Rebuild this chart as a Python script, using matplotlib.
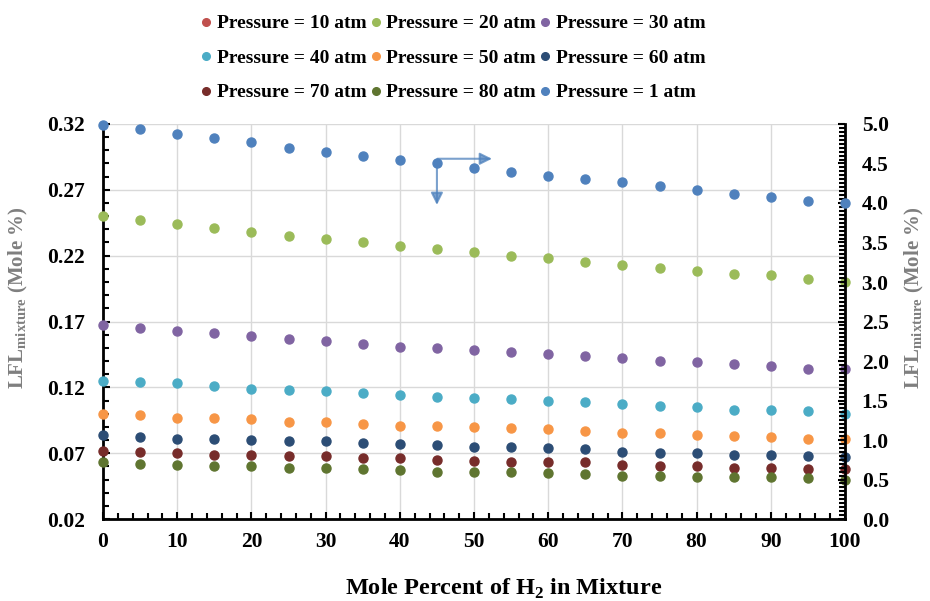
import numpy as np
import matplotlib.pyplot as plt
from matplotlib.lines import Line2D
from matplotlib.ticker import MultipleLocator, FixedLocator

plt.rcParams['font.family'] = ['Liberation Serif', 'DejaVu Serif']
plt.rcParams['font.weight'] = 'bold'
plt.rcParams['axes.labelweight'] = 'bold'
plt.rcParams['mathtext.fontset'] = 'custom'
plt.rcParams['mathtext.rm'] = 'Liberation Serif:bold'
plt.rcParams['mathtext.bf'] = 'Liberation Serif:bold'

# mole percent of H2
h2 = [0, 5, 10, 15, 20, 25, 30, 35, 40, 45, 50, 55, 60, 65, 70, 75, 80, 85, 90, 95, 100]

# LFL of mixture (mole %), left axis
lfl_10 = []  # off scale, only listed in legend
lfl_20 = [0.250, 0.247, 0.244, 0.241, 0.238, 0.235, 0.233, 0.230, 0.227, 0.225, 0.223,
          0.220, 0.218, 0.215, 0.213, 0.211, 0.208, 0.206, 0.205, 0.202, 0.200]
lfl_30 = [0.167, 0.165, 0.163, 0.161, 0.159, 0.157, 0.155, 0.153, 0.151, 0.150, 0.148,
          0.147, 0.145, 0.144, 0.142, 0.140, 0.139, 0.138, 0.136, 0.134, 0.134]
lfl_40 = [0.125, 0.124, 0.123, 0.121, 0.119, 0.118, 0.117, 0.116, 0.114, 0.113, 0.112,
          0.111, 0.110, 0.109, 0.107, 0.106, 0.105, 0.103, 0.103, 0.102, 0.100]
lfl_50 = [0.100, 0.099, 0.097, 0.097, 0.096, 0.094, 0.094, 0.092, 0.091, 0.091, 0.090,
          0.089, 0.088, 0.087, 0.085, 0.085, 0.084, 0.083, 0.082, 0.081, 0.081]
lfl_60 = [0.084, 0.082, 0.081, 0.081, 0.080, 0.079, 0.079, 0.078, 0.077, 0.076, 0.075,
          0.075, 0.074, 0.073, 0.071, 0.070, 0.070, 0.069, 0.069, 0.068, 0.067]
lfl_70 = [0.072, 0.071, 0.070, 0.069, 0.069, 0.068, 0.068, 0.066, 0.066, 0.065, 0.064,
          0.063, 0.063, 0.063, 0.061, 0.060, 0.060, 0.059, 0.059, 0.058, 0.058]
lfl_80 = [0.063, 0.062, 0.061, 0.060, 0.060, 0.059, 0.059, 0.058, 0.057, 0.056, 0.056,
          0.056, 0.055, 0.054, 0.053, 0.053, 0.052, 0.052, 0.052, 0.051, 0.050]

# 1 atm series, right axis
lfl_1 = [4.99, 4.94, 4.87, 4.82, 4.77, 4.70, 4.65, 4.59, 4.54, 4.51, 4.44,
         4.39, 4.34, 4.30, 4.26, 4.22, 4.16, 4.12, 4.08, 4.03, 4.00]

labels = ['Pressure = 10 atm', 'Pressure = 20 atm', 'Pressure = 30 atm',
          'Pressure = 40 atm', 'Pressure = 50 atm', 'Pressure = 60 atm',
          'Pressure = 70 atm', 'Pressure = 80 atm', 'Pressure = 1 atm']
colors = ['#C0504D', '#9BBB59', '#8064A2', '#4BACC6', '#F79646', '#2C4D75',
          '#772C2A', '#5F7530', '#4F81BD']
left_series = [lfl_10, lfl_20, lfl_30, lfl_40, lfl_50, lfl_60, lfl_70, lfl_80]

fig = plt.figure(figsize=(9.3, 6.01), dpi=100)
ax = fig.add_axes([0.1108, 0.1364, 0.7978, 0.6573])
ax2 = ax.twinx()

ms = 6.5
handles = []
for vals, lab, col in zip(left_series, labels[:8], colors[:8]):
    if vals:
        ax.plot(h2, vals, 'o', color=col, ms=ms, clip_on=False, zorder=3)
    handles.append(Line2D([], [], marker='o', ls='', color=col, ms=5.5, label=lab))
ax2.plot(h2, lfl_1, 'o', color=colors[8], ms=ms, clip_on=False, zorder=3)
handles.append(Line2D([], [], marker='o', ls='', color=colors[8], ms=5.5, label=labels[8]))

# arrow showing the 1 atm series belongs to the right axis
arrow_col = (0.31, 0.51, 0.74, 0.75)
ax2.annotate('', xy=(52.8, 4.56), xytext=(44.7, 4.56),
             arrowprops=dict(arrowstyle='-|>', color=arrow_col, lw=1.5, mutation_scale=18))
ax2.annotate('', xy=(45.0, 3.94), xytext=(45.0, 4.57),
             arrowprops=dict(arrowstyle='-|>', color=arrow_col, lw=1.5, mutation_scale=18))

ax.set_xlim(0, 100)
ax.set_ylim(0.02, 0.32)
ax2.set_ylim(0, 5)
ax.xaxis.set_major_locator(MultipleLocator(10))
ax.xaxis.set_minor_locator(MultipleLocator(2))
ax.yaxis.set_major_locator(FixedLocator(np.round(np.arange(0.02, 0.321, 0.05), 2)))
ax.yaxis.set_minor_locator(MultipleLocator(0.01))
ax2.yaxis.set_major_locator(MultipleLocator(0.5))
ax2.yaxis.set_minor_locator(MultipleLocator(0.05))
ax.yaxis.set_major_formatter(plt.FormatStrFormatter('%.2f'))
ax2.yaxis.set_major_formatter(plt.FormatStrFormatter('%.1f'))

ax.grid(True, which='major', color='#D9D9D9', lw=1)
ax.set_axisbelow(True)
for a in (ax, ax2):
    a.tick_params(which='both', direction='in', labelsize=15.5, width=1.5, color='black')
    a.tick_params(which='major', length=5)
    a.tick_params(which='minor', length=4)
    for s in a.spines.values():
        s.set_linewidth(2)
    a.spines['top'].set_visible(False)
ax.tick_params(axis='x', pad=9)
ax.tick_params(axis='y', pad=13)
ax2.tick_params(axis='y', pad=12)
ax.spines['right'].set_visible(False)
ax2.spines['left'].set_visible(False)
ax2.spines['bottom'].set_visible(False)

ax.set_xlabel('Mole Percent of H$_2$ in Mixture', fontsize=17.5)
ax.xaxis.set_label_coords(0.540, -0.145)
ylab = 'LFL$_{\\mathbf{mixture}}$ (Mole %)'
ax.set_ylabel(ylab, fontsize=15, color='#7F7F7F')
ax2.set_ylabel(ylab, fontsize=15, color='#7F7F7F', rotation=90)
ax.yaxis.set_label_coords(-0.098, 0.56)
ax2.yaxis.set_label_coords(1.078, 0.56)

# legend fills column-wise, so reorder to read row by row
order = [0, 3, 6, 1, 4, 7, 2, 5, 8]
fig.legend([handles[i] for i in order], [labels[i] for i in order], ncol=3,
           loc='upper center', bbox_to_anchor=(0.486, 1.0), frameon=False,
           fontsize=14, handletextpad=0.16, columnspacing=0.05, labelspacing=0.87,
           handlelength=0.8, borderaxespad=0.36)

fig.savefig('out.png', dpi=100)
